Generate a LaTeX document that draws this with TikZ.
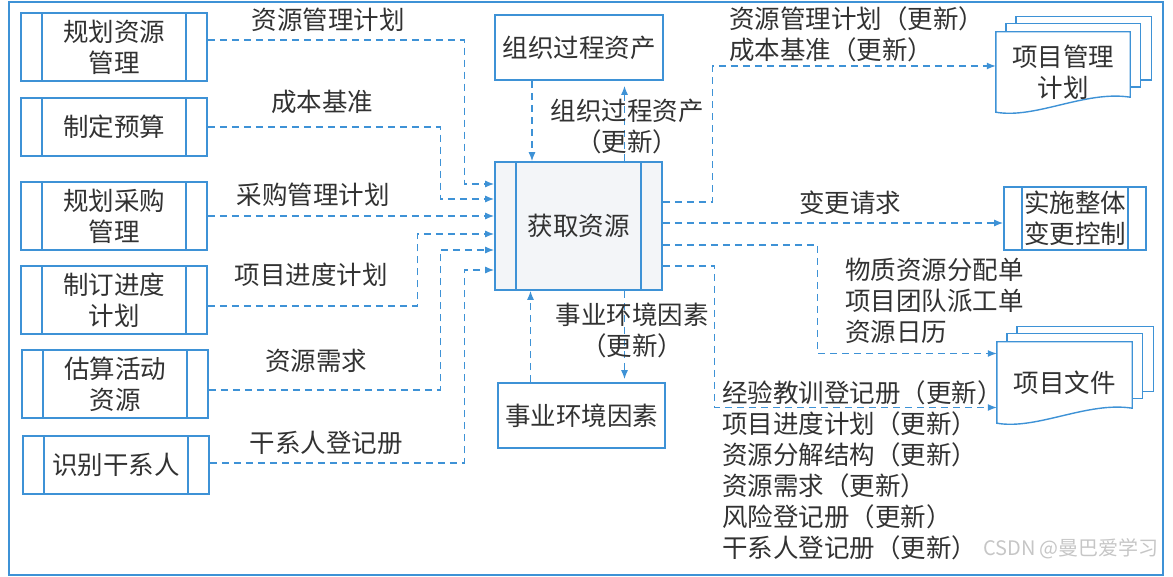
\documentclass[tikz,border=0pt]{standalone}
\usepackage{fontspec}
\setmainfont{Noto Sans CJK SC}
\usepackage{xcolor}
\usepackage{tikz}
\usetikzlibrary{arrows.meta}
\usetikzlibrary{backgrounds}

\definecolor{flowblue}{RGB}{62,146,214}
\definecolor{inkgray}{RGB}{50,50,50}
\definecolor{corefill}{RGB}{243,245,248}

\tikzset{
  banded/.style={path picture={
      \draw[flowblue, line width=1.6pt]
        ([xshift=#1]path picture bounding box.north west) -- ([xshift=#1]path picture bounding box.south west)
        ([xshift=-#1]path picture bounding box.north east) -- ([xshift=-#1]path picture bounding box.south east);}},
  plainbox/.style={draw=flowblue, line width=1.6pt, fill=white, text=inkgray, align=center, inner sep=0pt,
      font=\fontsize{25.5}{31}\selectfont},
  procbox/.style={plainbox, banded=21pt, minimum width=186pt, minimum height=68pt},
  docnode/.style={text=inkgray, align=center, inner sep=0pt, font=\fontsize{25.5}{31}\selectfont},
  page/.style={draw=flowblue, line width=1.4pt, fill=white},
  lbl/.style={text=inkgray, inner sep=0pt, font=\fontsize{25.5}{31}\selectfont},
  flow/.style={draw=flowblue, line width=1.3pt, dash pattern=on 7pt off 5pt, -{Latex[length=9pt,width=7pt]}},
}

\begin{document}
\begin{tikzpicture}[x=1pt, y=-1pt]
    % Fix the page to the size of the reference (y runs downwards)
    \useasboundingbox (0,0) rectangle (1173,577);
    \draw[flowblue, line width=1.6pt] (9,2) rectangle (1163,575);

    % Input processes on the left
    \node[procbox] (rm) at (114,47) {规划资源\\管理};
    \node[procbox, minimum height=58pt] (bud) at (114,127) {制定预算};
    \node[procbox] (pm) at (114,216) {规划采购\\管理};
    \node[procbox] (sch) at (114,300) {制订进度\\计划};
    \node[procbox] (est) at (115,384) {估算活动\\资源};
    \node[procbox, minimum height=58pt] (stk) at (116,465) {识别干系人};

    % Central process and the two asset boxes
    \node[plainbox, banded=21pt, fill=corefill, minimum width=167pt, minimum height=128pt] (core) at (578.5,226) {获取资源};
    \node[plainbox, minimum width=168pt, minimum height=65pt] (opa) at (579,47.5) {组织过程资产};
    \node[plainbox, minimum width=167pt, minimum height=65pt] (eef) at (581.5,415.5) {事业环境因素};

    % Outputs on the right
    \node[docnode, minimum width=134pt, minimum height=80pt] (pmp) at (1063,72) {项目管理\\计划};
    \node[plainbox, banded=18pt, minimum width=142pt, minimum height=63pt] (icc) at (1075,218.5) {实施整体\\变更控制};
    \node[docnode, minimum width=135pt, minimum height=81pt] (pd) at (1064.5,382.5) {项目文件};

    % Stacked pages behind the document nodes
    \begin{scope}[on background layer]
    \foreach \d in {pmp,pd}{
        \filldraw[page] ([xshift=20pt,yshift=15pt]\d.north west) rectangle ([xshift=21pt,yshift=32pt]\d.south east);
        \filldraw[page] ([xshift=10pt,yshift=8pt]\d.north west) rectangle ([xshift=10pt,yshift=25pt]\d.south east);
        \filldraw[page] (\d.south west) -- (\d.north west) -- (\d.north east) -- ([yshift=15pt]\d.south east)
            .. controls ([xshift=-45pt,yshift=22pt]\d.south east) and ([xshift=40pt,yshift=-7pt]\d.south west) .. (\d.south west) -- cycle;
    }
    \end{scope}

    % Entry points on the central box
    \coordinate (in1) at ([yshift=42pt]core.west);
    \coordinate (in2) at ([yshift=27pt]core.west);
    \coordinate (in3) at ([yshift=10pt]core.west);
    \coordinate (in4) at ([yshift=-8pt]core.west);
    \coordinate (in5) at ([yshift=-24pt]core.west);
    \coordinate (in6) at ([yshift=-44pt]core.west);
    \coordinate (out1) at ([yshift=24pt]core.east);
    \coordinate (out2) at ([yshift=3pt]core.east);
    \coordinate (out3) at ([yshift=-19pt]core.east);
    \coordinate (out4) at ([yshift=-40pt]core.east);

    % Inputs
    \draw[flow] ([yshift=7pt]rm.east) -| ([xshift=-30pt]in1) -- (in1);
    \draw[flow] (bud.east) -| ([xshift=-54pt]in2) -- (in2);
    \draw[flow] (pm.east) -- (in3);
    \draw[flow] ([yshift=-6pt]sch.east) -| ([xshift=-77pt]in4) -- (in4);
    \draw[flow] ([yshift=-6pt]est.east) -| ([xshift=-54pt]in5) -- (in5);
    \draw[flow] ([yshift=2pt]stk.east) -| ([xshift=-30pt]in6) -- (in6);

    % Assets in and out
    \draw[flow] ([xshift=-47pt]opa.south) -- ([xshift=-47pt]opa.south |- core.north);
    \draw[flow] ([xshift=46pt]core.north) -- ([xshift=46pt,yshift=-5pt]core.north |- opa.south);
    \draw[flow] ([xshift=-51pt]eef.north) -- ([xshift=-51pt]eef.north |- core.south);
    \draw[flow] ([xshift=46pt]core.south) -- ([xshift=46pt,yshift=3pt]core.south |- eef.north);

    % Outputs
    \draw[flow] (out1) -- ++(50,0) |- ([yshift=6pt]pmp.west);
    \draw[flow] (out2) -- (out2 -| icc.west);
    \draw[flow] (out3) -- ++(155,0) |- ([yshift=29pt]pd.west);
    \draw[flow] (out4) -- ++(52,0) |- ([yshift=-25pt]pd.west);

    % Connector labels
    \node[lbl] (l1) at (328,20) {资源管理计划};
    \node[lbl] (l2) at (322,102) {成本基准};
    \node[lbl] (l3) at (313,195) {采购管理计划};
    \node[lbl] (l4) at (311,275) {项目进度计划};
    \node[lbl] (l5) at (316,361) {资源需求};
    \node[lbl] (l6) at (326,443) {干系人登记册};
    \node[lbl, align=center] (l7) at (627,127) {组织过程资产\\（更新）};
    \node[lbl, align=center] (l8) at (632,330) {事业环境因素\\（更新）};
    \node[lbl, align=left, anchor=west] (l9) at (729,34) {资源管理计划（更新）\\成本基准（更新）};
    \node[lbl] (l10) at (850,203) {变更请求};
    \node[lbl, align=left, anchor=west] (l11) at (845,301) {物质资源分配单\\项目团队派工单\\资源日历};
    \node[lbl, align=left, anchor=west] (l12) at (722,470) {经验教训登记册（更新）\\项目进度计划（更新）\\资源分解结构（更新）\\资源需求（更新）\\风险登记册（更新）\\干系人登记册（更新）};

    \node[text=gray!45, inner sep=0pt, font=\fontsize{20}{24}\selectfont] (wm) at (1071,549) {CSDN @曼巴爱学习};
\end{tikzpicture}
\end{document}
